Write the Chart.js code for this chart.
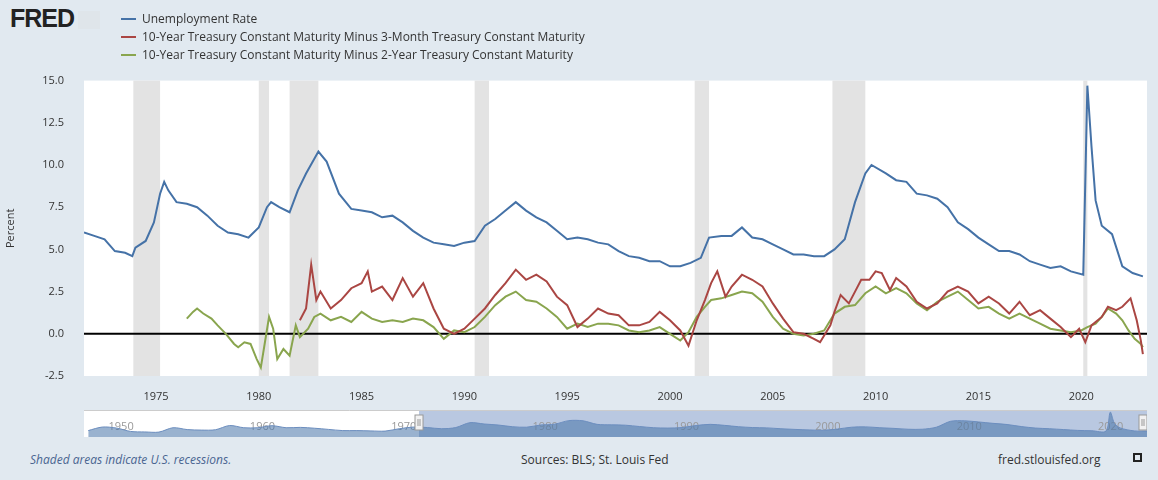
<!DOCTYPE html>
<html><head><meta charset="utf-8">
<script src="https://cdn.jsdelivr.net/npm/chart.js@4"></script>
<style>
body{margin:0;background:#e1e9f0;font-family:"Open Sans",sans-serif;width:1158px;height:480px;overflow:hidden;position:relative}
.abs{position:absolute}
.leg{position:absolute;left:121px;font-size:12px;color:#333;white-space:nowrap}
.leg span{display:inline-block;width:15px;height:2px;vertical-align:middle;margin-right:6px;margin-top:-2px}
</style></head><body>
<div class="abs" style="left:0;top:62px;width:1158px;height:348px"><canvas id="c"></canvas></div>
<div class="abs" style="left:10px;top:4px;font:bold 25px 'Liberation Sans',Arial;color:#222;letter-spacing:-1px">FRED<span style="display:inline-block;width:22px;height:18px;background:#dfe5ea;margin-left:4px;vertical-align:-2px"></span></div>
<div class="leg" style="top:10px"><span style="background:#4572a7"></span>Unemployment Rate</div>
<div class="leg" style="top:28px"><span style="background:#aa4643"></span>10-Year Treasury Constant Maturity Minus 3-Month Treasury Constant Maturity</div>
<div class="leg" style="top:46px"><span style="background:#89a54e"></span>10-Year Treasury Constant Maturity Minus 2-Year Treasury Constant Maturity</div>
<div class="abs" style="left:84px;top:410px;width:1063px;height:27px"><canvas id="n"></canvas></div>
<div class="abs" style="left:30px;top:451px;font-size:12px;font-style:italic;color:#4a6590">Shaded areas indicate U.S. recessions.</div>
<div class="abs" style="left:521px;top:451px;font-size:12px;color:#333">Sources: BLS; St. Louis Fed</div>
<div class="abs" style="left:998px;top:451px;font-size:12px;color:#333">fred.stlouisfed.org</div>
<div class="abs" style="left:1133px;top:453px;width:9px;height:9px;border:2px dashed #222;box-sizing:border-box"></div>
<script>
const unrateX=[1971.5,1972,1972.5,1973,1973.5,1973.85,1974,1974.5,1974.9,1975.2,1975.4,1975.6,1976,1976.5,1977,1977.5,1978,1978.5,1979,1979.5,1980,1980.4,1980.6,1981,1981.5,1981.9,1982.3,1982.9,1983.3,1983.9,1984.5,1985,1985.5,1986,1986.5,1987,1987.5,1988,1988.5,1989,1989.5,1990,1990.5,1991,1991.5,1992,1992.5,1993,1993.5,1994,1994.5,1995,1995.5,1996,1996.5,1997,1997.5,1998,1998.5,1999,1999.5,2000,2000.5,2001,2001.5,2001.9,2002.5,2003,2003.5,2004,2004.5,2005,2005.5,2006,2006.5,2007,2007.5,2008,2008.5,2009,2009.5,2009.8,2010.5,2011,2011.5,2012,2012.5,2013,2013.5,2014,2014.5,2015,2015.5,2016,2016.5,2017,2017.5,2018,2018.5,2019,2019.5,2020.1,2020.3,2020.5,2020.7,2021,2021.5,2022,2022.5,2023];
const unrateY=[6.0,5.8,5.6,4.9,4.8,4.6,5.1,5.5,6.6,8.3,9.0,8.5,7.8,7.7,7.5,7.0,6.4,6.0,5.9,5.7,6.3,7.5,7.8,7.5,7.2,8.5,9.5,10.8,10.2,8.3,7.4,7.3,7.2,6.9,7.0,6.6,6.1,5.7,5.4,5.3,5.2,5.4,5.5,6.4,6.8,7.3,7.8,7.3,6.9,6.6,6.1,5.6,5.7,5.6,5.4,5.3,4.9,4.6,4.5,4.3,4.3,4.0,4.0,4.2,4.5,5.7,5.8,5.8,6.3,5.7,5.6,5.3,5.0,4.7,4.7,4.6,4.6,5.0,5.6,7.8,9.5,10.0,9.5,9.1,9.0,8.3,8.2,8.0,7.5,6.6,6.2,5.7,5.3,4.9,4.9,4.7,4.3,4.1,3.9,4.0,3.7,3.5,14.7,11.1,7.9,6.4,5.9,4.0,3.6,3.4];
const t3mX=[1982.0,1982.3,1982.55,1982.8,1983,1983.5,1984,1984.5,1985,1985.3,1985.5,1986,1986.5,1987,1987.5,1988,1988.5,1989,1989.5,1990,1990.5,1991,1991.5,1992,1992.5,1993,1993.5,1994,1994.5,1995,1995.5,1996,1996.5,1997,1997.5,1998,1998.5,1999,1999.5,2000,2000.5,2000.9,2001.3,2001.7,2002,2002.3,2002.7,2003,2003.5,2004,2004.5,2005,2005.5,2006,2006.5,2007,2007.3,2007.8,2008,2008.3,2008.7,2009,2009.3,2009.7,2010,2010.3,2010.7,2011,2011.5,2012,2012.5,2013,2013.5,2014,2014.5,2015,2015.5,2016,2016.5,2017,2017.5,2018,2018.5,2019,2019.5,2019.9,2020.2,2020.5,2021,2021.3,2021.7,2022,2022.4,2022.7,2022.9,2023];
const t3mY=[0.8,1.5,4.1,2.0,2.5,1.5,2.0,2.7,3.0,3.7,2.5,2.8,2.0,3.3,2.2,3.0,1.5,0.3,0.0,0.3,0.9,1.5,2.3,3.0,3.8,3.2,3.5,3.1,2.2,1.7,0.4,0.9,1.5,1.2,1.1,0.5,0.5,0.7,1.3,0.8,0.2,-0.7,0.8,2.0,3.0,3.7,2.2,2.8,3.5,3.2,2.8,1.8,0.9,0.1,0.0,-0.3,-0.5,0.5,1.3,2.3,1.8,2.5,3.2,3.2,3.7,3.6,2.6,3.3,2.8,1.9,1.5,1.8,2.5,2.8,2.5,1.8,2.2,1.8,1.2,1.9,1.1,1.4,0.9,0.4,-0.2,0.3,-0.5,0.5,1.0,1.6,1.4,1.6,2.1,0.8,-0.4,-1.2];
const t2yX=[1976.5,1976.8,1977,1977.3,1977.7,1978,1978.4,1978.8,1979,1979.3,1979.6,1979.9,1980.1,1980.3,1980.5,1980.7,1980.9,1981.2,1981.5,1981.8,1982,1982.4,1982.7,1983,1983.5,1984,1984.5,1985,1985.5,1986,1986.5,1987,1987.5,1988,1988.5,1989,1989.5,1990,1990.5,1991,1991.5,1992,1992.5,1993,1993.5,1994,1994.5,1995,1995.5,1996,1996.5,1997,1997.5,1998,1998.5,1999,1999.5,2000,2000.5,2000.9,2001.3,2001.7,2002,2002.5,2003,2003.5,2004,2004.5,2005,2005.5,2006,2006.5,2007,2007.5,2008,2008.5,2009,2009.5,2010,2010.5,2011,2011.5,2012,2012.5,2013,2013.5,2014,2014.5,2015,2015.5,2016,2016.5,2017,2017.5,2018,2018.5,2019,2019.5,2020,2020.3,2020.7,2021,2021.3,2021.7,2022,2022.3,2022.6,2022.9,2023];
const t2yY=[0.9,1.3,1.5,1.2,0.9,0.5,0.0,-0.6,-0.8,-0.5,-0.6,-1.5,-2.0,-0.5,1.0,0.3,-1.5,-0.9,-1.3,0.5,-0.2,0.3,1.0,1.2,0.8,1.0,0.7,1.3,0.9,0.7,0.8,0.7,0.9,0.8,0.4,-0.3,0.2,0.1,0.4,1.0,1.7,2.2,2.5,2.0,1.9,1.5,1.0,0.3,0.6,0.4,0.6,0.6,0.5,0.2,0.1,0.2,0.4,0.0,-0.4,0.1,1.0,1.6,2.0,2.1,2.3,2.5,2.4,1.9,1.0,0.3,0.0,-0.1,0.0,0.2,1.2,1.6,1.7,2.4,2.8,2.4,2.7,2.4,1.8,1.4,1.9,2.2,2.5,2.0,1.5,1.6,1.2,0.9,1.2,0.9,0.6,0.3,0.2,0.1,0.2,0.4,0.6,1.0,1.5,1.2,0.8,0.2,-0.3,-0.6,-0.8];
const recStart=[1973.9,1980.0,1981.5,1990.5,2001.2,2007.9,2020.1];
const recEnd=[1975.2,1980.5,1982.9,1991.2,2001.9,2009.5,2020.3];
const yTicks=[-2.5,0,2.5,5,7.5,10,12.5,15];
const xTicks=[1975,1980,1985,1990,1995,2000,2005,2010,2015,2020];
const navX=[1948,1949,1950,1951,1952,1953,1954,1955,1956,1957,1958,1959,1960,1961,1962,1963,1964,1965,1966,1967,1968,1969,1970,1971,1972,1973,1974,1975,1976,1977,1978,1979,1980,1981,1982,1983,1984,1985,1986,1987,1988,1989,1990,1991,1992,1993,1994,1995,1996,1997,1998,1999,2000,2001,2002,2003,2004,2005,2006,2007,2008,2009,2010,2011,2012,2013,2014,2015,2016,2017,2018,2019,2020,2020.3,2020.6,2021,2022,2023];
const navY=[3.8,5.9,5.3,3.3,3.0,2.9,5.5,4.4,4.1,4.3,6.8,5.5,5.5,6.7,5.5,5.7,5.2,4.5,3.8,3.8,3.6,3.5,4.9,5.9,5.6,4.9,5.6,8.5,7.7,7.1,6.1,5.8,7.1,7.6,9.7,9.6,7.5,7.2,7.0,6.2,5.5,5.3,5.6,6.8,7.5,6.9,6.1,5.6,5.4,4.9,4.5,4.2,4.0,4.7,5.8,6.0,5.5,5.1,4.6,4.6,5.8,9.3,9.6,8.9,8.1,7.4,6.2,5.3,4.9,4.4,3.9,3.7,3.5,14.7,8.0,5.4,3.6,3.5];
const navTicks=[1950,1960,1970,1980,1990,2000,2010,2020];
const sel=[1971.4,2023.2];

const pts=(xs,ys)=>xs.map((x,i)=>({x,y:ys[i]}));
const recPlugin={id:'rec',beforeDatasetsDraw(ch){const{ctx,chartArea:a,scales:{x,y}}=ch;ctx.save();ctx.fillStyle='#e3e3e3';
 recStart.forEach((s,i)=>{const l=x.getPixelForValue(s),r=x.getPixelForValue(recEnd[i]);ctx.fillRect(l,a.top,r-l,a.bottom-a.top);});
 const z=y.getPixelForValue(0);ctx.strokeStyle='#000';ctx.lineWidth=2;ctx.beginPath();ctx.moveTo(a.left,z);ctx.lineTo(a.right,z);ctx.stroke();ctx.restore();}};
const bg={id:'bg',beforeDraw(ch){const{ctx,chartArea:a}=ch;ctx.save();ctx.fillStyle='#fff';ctx.fillRect(a.left,a.top,a.right-a.left,a.bottom-a.top);ctx.restore();}};
new Chart(document.getElementById('c'),{type:'line',
 data:{datasets:[
  {data:pts(unrateX,unrateY),borderColor:'#4572a7',borderWidth:2,pointRadius:0,tension:0},
  {data:pts(t3mX,t3mY),borderColor:'#aa4643',borderWidth:2,pointRadius:0,tension:0},
  {data:pts(t2yX,t2yY),borderColor:'#89a54e',borderWidth:2,pointRadius:0,tension:0}]},
 options:{responsive:true,maintainAspectRatio:false,animation:false,layout:{padding:{top:2,right:11,left:0,bottom:0}},
  plugins:{legend:{display:false},tooltip:{enabled:false}},
  scales:{
   x:{type:'linear',min:1971.5,max:2023.2,grid:{display:false},border:{display:false},
     afterBuildTicks(s){s.ticks=xTicks.map(v=>({value:v}));},
     afterFit(s){s.height=34;},
     ticks:{color:'#333',font:{size:11,family:'Open Sans'},padding:6,maxRotation:0,callback:v=>String(v)}},
   y:{min:-2.5,max:15,grid:{display:false},border:{display:false},
     afterBuildTicks(s){s.ticks=yTicks.map(v=>({value:v}));},
     afterFit(s){s.width=84;},
     title:{display:true,text:'Percent',color:'#333',font:{size:11,family:'Open Sans'}},
     ticks:{color:'#333',font:{size:11,family:'Open Sans'},padding:12,callback:v=>v.toFixed(1)}}}},
 plugins:[bg,recPlugin]});

const navPlug={id:'nav',beforeDatasetsDraw(ch){const{ctx,chartArea:a,scales:{x}}=ch;ctx.save();ctx.fillStyle='#fff';ctx.fillRect(a.left,a.top,a.right-a.left,a.bottom-a.top);
 const l=x.getPixelForValue(sel[0]),r=x.getPixelForValue(sel[1]);ctx.fillStyle='#b9c8e1';ctx.fillRect(l,a.top,r-l,a.bottom-a.top);
 ctx.strokeStyle='#ccc';ctx.beginPath();ctx.moveTo(a.left,a.top+0.5);ctx.lineTo(a.right,a.top+0.5);ctx.stroke();
 ctx.fillStyle='#999';ctx.font='11px Open Sans';ctx.textBaseline='middle';navTicks.forEach(t=>ctx.fillText(String(t),x.getPixelForValue(t)-8,a.top+17));ctx.restore();},
 afterDatasetsDraw(ch){const{ctx,chartArea:a,scales:{x}}=ch;ctx.save();[sel[0],sel[1]].forEach(v=>{let p=x.getPixelForValue(v);p=Math.min(Math.max(p,a.left+4),a.right-4);ctx.fillStyle='#f2f2f2';ctx.strokeStyle='#999';ctx.fillRect(p-4,a.top+5,8,15);ctx.strokeRect(p-4,a.top+5,8,15);ctx.beginPath();ctx.moveTo(p-1,a.top+9);ctx.lineTo(p-1,a.top+16);ctx.moveTo(p+1,a.top+9);ctx.lineTo(p+1,a.top+16);ctx.stroke();});ctx.restore();}};
new Chart(document.getElementById('n'),{type:'line',
 data:{datasets:[{data:pts(navX,navY),borderColor:'#6c8ebf',borderWidth:1,backgroundColor:'rgba(69,114,167,0.55)',fill:'origin',pointRadius:0,tension:0.3}]},
 options:{responsive:true,maintainAspectRatio:false,animation:false,layout:{padding:0},
  plugins:{legend:{display:false},tooltip:{enabled:false}},
  scales:{x:{type:'linear',min:1947.7,max:2022.9,display:false},y:{min:0,max:16,display:false}}},
 plugins:[navPlug]});
</script></body></html>
